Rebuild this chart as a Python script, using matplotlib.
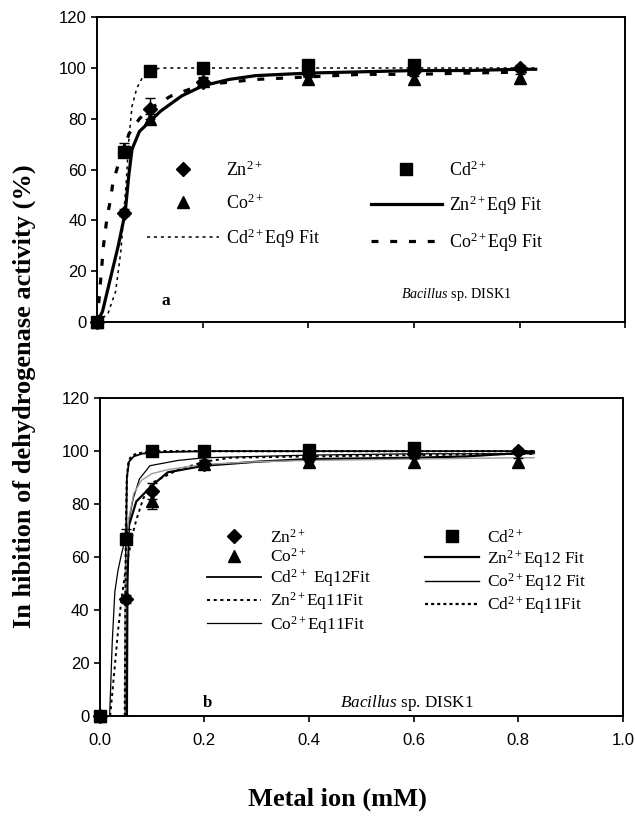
import matplotlib
matplotlib.use('Agg')
import matplotlib.pyplot as plt
from matplotlib import font_manager

plt.rcParams['mathtext.fontset'] = 'custom'
plt.rcParams['mathtext.rm'] = 'Liberation Serif'
plt.rcParams['mathtext.it'] = 'Liberation Serif:italic'
plt.rcParams['mathtext.bf'] = 'Liberation Serif:bold'
plt.rcParams['lines.scale_dashes'] = False

names = {f.name for f in font_manager.fontManager.ttflist}
narrow = 'Liberation Sans Narrow' if 'Liberation Sans Narrow' in names else 'Liberation Sans'

# measured inhibition (%) vs metal ion concentration (mM)
conc = [0.0, 0.05, 0.1, 0.2, 0.4, 0.6, 0.8]
conc_cd = [0.0, 0.05, 0.1, 0.2, 0.4, 0.6]

zn_a = [0, 43, 84, 94.5, 98, 99, 100]
co_a = [0, 68, 80, 95, 95.5, 95.5, 96]
cd_a = [0, 67, 99, 100, 101, 101]
zn_a_err = [0.5, 1.5, 4, 1.5, 1.5, 1.5, 1]
co_a_err = [0.5, 2.5, 2, 1.5, 1.5, 1.5, 1.5]
cd_a_err = [0.5, 1.5, 1, 1, 1, 1]

zn_b = [0, 44, 85, 95, 97.5, 99, 100]
co_b = [0, 68, 81, 95, 96, 96, 96]
cd_b = [0, 67, 100, 100, 100.5, 101]
zn_b_err = [0.5, 1.5, 3, 1.5, 1.5, 1.5, 1]
co_b_err = [0.5, 2.5, 3, 1.5, 1.5, 1.5, 1.5]
cd_b_err = [0.5, 2, 1, 1, 1, 1]

# Eq9 fitted curves (panel a)
zn9_x = [0, 0.01, 0.025, 0.04, 0.053, 0.06, 0.066, 0.08, 0.1, 0.12, 0.16, 0.2, 0.25, 0.3, 0.4, 0.5, 0.6, 0.7, 0.8, 0.83]
zn9_y = [0, 4, 17, 30, 43, 58, 68, 75, 79, 83, 89, 93, 95.5, 97, 98, 98.5, 99, 99, 99.5, 99.5]
co9_x = [0, 0.004, 0.008, 0.012, 0.018, 0.025, 0.03, 0.04, 0.05, 0.06, 0.08, 0.1, 0.14, 0.18, 0.23, 0.3, 0.4, 0.5, 0.6, 0.7, 0.83]
co9_y = [0, 10, 20, 30, 40, 48, 55, 62, 67, 74, 80, 84, 89, 92, 94, 95.5, 96.5, 97.5, 97.5, 98, 98.5]
cd9_x = [0, 0.02, 0.035, 0.045, 0.05, 0.055, 0.06, 0.066, 0.075, 0.085, 0.1, 0.12, 0.2, 0.4, 0.6, 0.83]
cd9_y = [0, 3, 12, 28, 42, 55, 72, 85, 92, 96, 99, 100, 100, 100, 100, 100]

# Eq11 / Eq12 fitted curves (panel b)
cd12_x = [0.049, 0.05, 0.052, 0.056, 0.065, 0.08, 0.1, 0.2, 0.4, 0.6, 0.83]
cd12_y = [0, 60, 90, 96, 98, 99, 99.5, 100, 100, 100, 100]
cd11_x = [0.048, 0.049, 0.05, 0.052, 0.055, 0.06, 0.07, 0.1, 0.2, 0.4, 0.6, 0.83]
cd11_y = [0, 30, 70, 90, 96, 98, 99, 100, 100, 100, 100, 100]
zn12_x = [0.052, 0.053, 0.056, 0.07, 0.1, 0.13, 0.2, 0.3, 0.4, 0.6, 0.7, 0.78, 0.83]
zn12_y = [0, 50, 72, 81, 87, 92, 94.5, 96, 97, 97.5, 98, 99, 99.5]
co12_x = [0.048, 0.05, 0.055, 0.065, 0.08, 0.1, 0.13, 0.2, 0.3, 0.4, 0.6, 0.8, 0.83]
co12_y = [0, 55, 74, 84, 89, 91.5, 93, 95, 96, 96.5, 97, 97.5, 97.5]
co11_x = [0.019, 0.024, 0.029, 0.035, 0.041, 0.05, 0.064, 0.076, 0.096, 0.15, 0.2, 0.3, 0.4, 0.6, 0.83]
co11_y = [0, 28, 47, 55, 60.5, 68, 82, 89.5, 94.5, 96.5, 97.5, 98, 98.5, 99, 99]
zn11_x = [0.02, 0.029, 0.035, 0.041, 0.05, 0.064, 0.07, 0.083, 0.1, 0.15, 0.2, 0.25, 0.4, 0.6, 0.83]
zn11_y = [0, 19, 32, 43, 56, 69.5, 74, 82, 88, 93, 96, 97.5, 98, 98.5, 99]

x_ticks = [0.0, 0.2, 0.4, 0.6, 0.8, 1.0]
y_ticks = [0, 20, 40, 60, 80, 100, 120]

fig = plt.figure(figsize=(6.35, 8.21), dpi=100)
ax_a = fig.add_axes([0.153, 0.608, 0.832, 0.371])
ax_b = fig.add_axes([0.157, 0.128, 0.824, 0.387])

serif = 'Liberation Serif'


def style_axes(ax):
    ax.set_xlim(0, 1.0)
    ax.set_ylim(0, 120)
    ax.set_xticks(x_ticks)
    ax.set_yticks(y_ticks)
    for s in ax.spines.values():
        s.set_linewidth(1.4)
    ax.tick_params(direction='out', length=4, width=1.2)


def points(ax, x, y, err, marker, ms, label):
    ax.errorbar(x, y, yerr=err, fmt=marker, color='black', ms=ms, capsize=3.5,
                elinewidth=1.0, capthick=1.0, clip_on=False, zorder=5, label=label)


def key_handles(ax, keys):
    h, l = ax.get_legend_handles_labels()
    h = [hh[0] if hasattr(hh, 'lines') and hh.lines else hh for hh in h]
    idx = [l.index(k) for k in keys]
    return [h[i] for i in idx], [l[i] for i in idx]


# ---- panel a ----
style_axes(ax_a)
ax_a.set_xticklabels([])
ax_a.set_yticklabels([str(v) for v in y_ticks], fontfamily='Liberation Sans', fontsize=12)

points(ax_a, conc, zn_a, zn_a_err, 'D', 7, 'Zn$^{2+}$')
points(ax_a, conc, co_a, co_a_err, '^', 9, 'Co$^{2+}$')
ax_a.plot(cd9_x, cd9_y, color='black', lw=1.1, dashes=(2.2, 2.8), label='Cd$^{2+}$Eq9 Fit')
points(ax_a, conc_cd, cd_a, cd_a_err, 's', 8, 'Cd$^{2+}$')
ax_a.plot(zn9_x, zn9_y, color='black', lw=2.3, label='Zn$^{2+}$Eq9 Fit')
ax_a.plot(co9_x, co9_y, color='black', lw=2.3, dashes=(5, 8.5), label='Co$^{2+}$Eq9 Fit')

hs, ls = key_handles(ax_a, ['Zn$^{2+}$', 'Co$^{2+}$', 'Cd$^{2+}$Eq9 Fit',
                            'Cd$^{2+}$', 'Zn$^{2+}$Eq9 Fit', 'Co$^{2+}$Eq9 Fit'])
ax_a.legend(hs, ls, ncol=2, frameon=False,
            loc='upper left', bbox_to_anchor=(0.095, 0.53), borderaxespad=0, borderpad=0,
            handlelength=3.95, handletextpad=0.4, columnspacing=2.8, labelspacing=0.75,
            prop={'family': serif, 'size': 13})

ax_a.text(0.13, 0.07, 'a', transform=ax_a.transAxes, fontfamily=serif, fontweight='bold',
          fontsize=12.5, ha='center', va='center')
ax_a.text(0.575, 0.09, '$\\it{Bacillus}$ sp. DISK1', transform=ax_a.transAxes,
          fontfamily=serif, fontsize=10.2, ha='left', va='center')

# ---- panel b ----
style_axes(ax_b)
ax_b.set_xticklabels(['%.1f' % v for v in x_ticks], fontfamily=narrow, fontsize=12)
ax_b.set_yticklabels([str(v) for v in y_ticks], fontfamily=narrow, fontsize=12)
ax_b.tick_params(axis='x', pad=8)

points(ax_b, conc, zn_b, zn_b_err, 'D', 7, 'Zn$^{2+}$')
points(ax_b, conc, co_b, co_b_err, '^', 9, 'Co$^{2+}$')
ax_b.plot(cd12_x, cd12_y, color='black', lw=1.3, label='Cd$^{2\\,+}$ Eq12Fit')
ax_b.plot(zn11_x, zn11_y, color='black', lw=1.4, dashes=(2.2, 2.6), label='Zn$^{2+}$Eq11Fit')
ax_b.plot(co11_x, co11_y, color='black', lw=0.9, label='Co$^{2+}$Eq11Fit')
points(ax_b, conc_cd, cd_b, cd_b_err, 's', 8, 'Cd$^{2+}$')
ax_b.plot(zn12_x, zn12_y, color='black', lw=1.6, label='Zn$^{2+}$Eq12 Fit')
ax_b.plot(co12_x, co12_y, color='#9a9a9a', lw=1.0, label='Co$^{2+}$Eq12 Fit')
ax_b.plot(cd11_x, cd11_y, color='black', lw=1.6, dashes=(2.2, 2.2), label='Cd$^{2+}$Eq11Fit')

hs, ls = key_handles(ax_b, ['Zn$^{2+}$', 'Co$^{2+}$', 'Cd$^{2\\,+}$ Eq12Fit', 'Zn$^{2+}$Eq11Fit',
                            'Co$^{2+}$Eq11Fit', 'Cd$^{2+}$', 'Zn$^{2+}$Eq12 Fit',
                            'Co$^{2+}$Eq12 Fit', 'Cd$^{2+}$Eq11Fit'])
leg_b = ax_b.legend(hs, ls, ncol=2, frameon=False,
                    loc='upper left', bbox_to_anchor=(0.206, 0.59), borderaxespad=0, borderpad=0,
                    handlelength=3.1, handletextpad=0.5, columnspacing=3.1, labelspacing=0.08,
                    prop={'family': serif, 'size': 12.5})
# the Co Eq12 line is shown black in the key
leg_b.get_lines()[7].set_color('black')

ax_b.text(0.205, 0.04, 'b', transform=ax_b.transAxes, fontfamily=serif, fontweight='bold',
          fontsize=12, ha='center', va='center')
ax_b.text(0.46, 0.04, '$\\it{Bacillus}$ sp. DISK1', transform=ax_b.transAxes,
          fontfamily=serif, fontsize=12.3, ha='left', va='center')

fig.text(0.038, 0.518, 'In hibition of dehydrogenase activity (%)', rotation=90,
         fontfamily=serif, fontweight='bold', fontsize=19, ha='center', va='center')
fig.text(0.531, 0.026, 'Metal ion (mM)', fontfamily=serif, fontweight='bold',
         fontsize=19, ha='center', va='center')

fig.savefig('out.png', dpi=100)
